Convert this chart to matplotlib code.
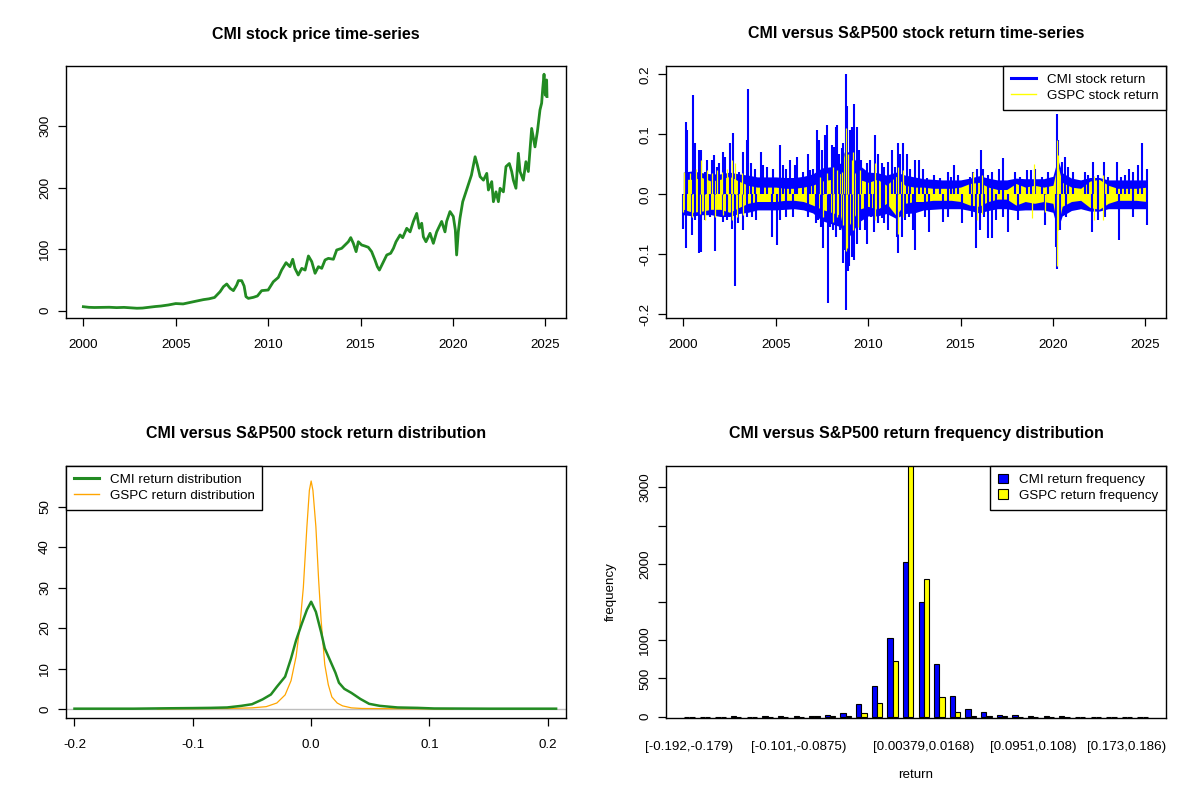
import numpy as np
import matplotlib.pyplot as plt
from matplotlib.patches import Patch
from matplotlib.lines import Line2D

plt.rcParams['font.family'] = ['Liberation Sans', 'DejaVu Sans']
plt.rcParams['font.size'] = 9.6

# ---- CMI closing price ----
price_years = [2000.0, 2000.3, 2000.6, 2001.0, 2001.4, 2001.8, 2002.2, 2002.6, 2002.9, 2003.2,
               2003.5, 2003.9, 2004.2, 2004.6, 2005.0, 2005.4, 2005.7, 2006.1, 2006.5, 2006.8,
               2007.1, 2007.4, 2007.58, 2007.76, 2007.94, 2008.12, 2008.3, 2008.39, 2008.57, 2008.7,
               2008.8, 2008.93, 2009.2, 2009.42, 2009.65, 2010.0, 2010.28, 2010.55, 2010.73, 2010.97,
               2011.18, 2011.33, 2011.45, 2011.63, 2011.82, 2012.0, 2012.18, 2012.36, 2012.54, 2012.72,
               2012.9, 2013.08, 2013.26, 2013.53, 2013.71, 2013.98, 2014.16, 2014.34, 2014.47, 2014.61,
               2014.76, 2014.88, 2015.06, 2015.24, 2015.42, 2015.6, 2015.78, 2015.91, 2016.02, 2016.2,
               2016.42, 2016.63, 2016.78, 2016.92, 2017.14, 2017.28, 2017.5, 2017.68, 2017.86, 2018.04,
               2018.18, 2018.31, 2018.4, 2018.54, 2018.76, 2018.94, 2019.12, 2019.39, 2019.57, 2019.66,
               2019.84, 2020.02, 2020.13, 2020.2, 2020.29, 2020.38, 2020.53, 2020.65, 2020.83, 2021.0,
               2021.2, 2021.32, 2021.47, 2021.65, 2021.83, 2021.92, 2022.1, 2022.19, 2022.33, 2022.46,
               2022.55, 2022.73, 2022.87, 2023.05, 2023.18, 2023.27, 2023.41, 2023.54, 2023.63, 2023.81,
               2023.95, 2024.08, 2024.17, 2024.26, 2024.44, 2024.57, 2024.71, 2024.8, 2024.86, 2024.93,
               2025.0, 2025.07, 2025.09]
price_vals = [6.5, 5.5, 5.2, 5.4, 5.6, 5.0, 5.4, 4.5, 4.0, 4.3,
              5.4, 6.8, 7.6, 9.3, 11.6, 11.0, 13.0, 15.5, 18.0, 19.3,
              21.5, 30.9, 39, 43.4, 36.4, 32.6, 41.8, 48.8, 48.8, 40,
              22.8, 20, 21.7, 23.9, 32.6, 33.6, 47, 54, 66, 78,
              71.5, 83.5, 68.8, 58, 68.8, 66, 88.9, 79.7, 60.7, 71.5,
              68.8, 82.4, 85, 83.5, 98.6, 101.3, 106.7, 112, 118.7, 109.4,
              95.9, 112, 106.7, 105, 103, 95.9, 82.4, 71.5, 66, 77,
              90.5, 93.2, 101.3, 112, 123, 118.6, 133.8, 128, 145, 158,
              134, 142, 120, 112, 125.7, 109.4, 128, 145, 128, 145,
              161, 153, 131, 90.5, 128, 150, 177, 188, 204, 220,
              250, 236.7, 217.7, 212, 223, 196, 209.6, 177, 193, 177,
              198.8, 193, 234, 239, 226, 212, 198.8, 255.6, 226, 212,
              242, 226, 261, 296, 266, 290.8, 326, 337, 361, 384,
              350, 374.7, 347.7]

# ---- daily returns: dense core band (upper / lower) ----
core_years = [2000.0, 2000.5, 2001.0, 2001.5, 2002.0, 2002.5, 2003.0, 2003.5, 2004.0, 2004.5,
              2005.0, 2005.5, 2006.0, 2006.5, 2007.0, 2007.5, 2008.0, 2008.5, 2008.75, 2009.0,
              2009.5, 2010.0, 2010.5, 2011.0, 2011.5, 2012.0, 2012.5, 2013.0, 2013.5, 2014.0,
              2014.5, 2015.0, 2015.5, 2016.0, 2016.5, 2017.0, 2017.5, 2018.0, 2018.5, 2019.0,
              2019.5, 2020.0, 2020.25, 2020.5, 2021.0, 2021.5, 2022.0, 2022.5, 2023.0, 2023.5,
              2024.0, 2024.5, 2025.1]
cmi_hi = [0.037, 0.039, 0.036, 0.034, 0.034, 0.037, 0.034, 0.032, 0.029, 0.029,
          0.029, 0.028, 0.028, 0.03, 0.034, 0.044, 0.046, 0.052, 0.074, 0.069,
          0.049, 0.037, 0.036, 0.032, 0.037, 0.032, 0.029, 0.026, 0.025, 0.024,
          0.024, 0.024, 0.027, 0.031, 0.027, 0.024, 0.024, 0.027, 0.026, 0.026,
          0.026, 0.03, 0.059, 0.036, 0.027, 0.024, 0.028, 0.028, 0.024, 0.024,
          0.024, 0.024, 0.024]
cmi_lo = [-0.034, -0.036, -0.034, -0.034, -0.037, -0.037, -0.032, -0.03, -0.026, -0.026,
          -0.026, -0.025, -0.024, -0.026, -0.031, -0.044, -0.049, -0.054, -0.079, -0.069,
          -0.046, -0.036, -0.036, -0.032, -0.04, -0.032, -0.031, -0.026, -0.025, -0.024,
          -0.024, -0.024, -0.027, -0.031, -0.027, -0.024, -0.024, -0.027, -0.026, -0.026,
          -0.026, -0.03, -0.059, -0.036, -0.027, -0.024, -0.028, -0.028, -0.024, -0.024,
          -0.024, -0.024, -0.024]
gspc_hi = [0.025, 0.025, 0.028, 0.022, 0.025, 0.03, 0.022, 0.015, 0.012, 0.012,
           0.012, 0.01, 0.01, 0.012, 0.015, 0.022, 0.025, 0.035, 0.075, 0.05,
           0.025, 0.02, 0.025, 0.015, 0.03, 0.015, 0.012, 0.012, 0.01, 0.01,
           0.01, 0.012, 0.018, 0.02, 0.012, 0.008, 0.008, 0.018, 0.012, 0.015,
           0.012, 0.015, 0.05, 0.02, 0.012, 0.01, 0.022, 0.025, 0.015, 0.01,
           0.01, 0.01, 0.012]
gspc_lo = [-0.025, -0.03, -0.028, -0.025, -0.025, -0.03, -0.022, -0.015, -0.012, -0.012,
           -0.012, -0.01, -0.01, -0.012, -0.018, -0.025, -0.03, -0.035, -0.075, -0.05,
           -0.025, -0.02, -0.025, -0.015, -0.035, -0.015, -0.012, -0.012, -0.01, -0.01,
           -0.01, -0.012, -0.018, -0.02, -0.012, -0.008, -0.008, -0.018, -0.012, -0.015,
           -0.012, -0.015, -0.055, -0.02, -0.012, -0.01, -0.022, -0.025, -0.015, -0.01,
           -0.01, -0.01, -0.012]

# ---- isolated big daily moves, CMI ----
cmi_up_years = [2000.15, 2000.22, 2000.52, 2000.63, 2000.87, 2000.96, 2001.17, 2001.3, 2001.53, 2001.68,
                2001.8, 2001.95, 2002.13, 2002.25, 2002.53, 2002.7, 2003.03, 2003.21, 2003.43, 2003.52,
                2003.64, 2003.88, 2004.18, 2004.33, 2004.55, 2004.87, 2005.23, 2005.41, 2005.56, 2005.77,
                2006.04, 2006.13, 2006.5, 2006.73, 2006.85, 2007.04, 2007.25, 2007.36, 2007.49, 2007.67,
                2007.76, 2008.03, 2008.15, 2008.26, 2008.33, 2008.44, 2008.57, 2008.66, 2008.8, 2008.87,
                2009.02, 2009.11, 2009.24, 2009.38, 2009.51, 2009.62, 2009.92, 2010.1, 2010.37, 2010.55,
                2010.73, 2010.88, 2011.09, 2011.28, 2011.46, 2011.6, 2011.73, 2011.91, 2012.09, 2012.27,
                2012.54, 2012.75, 2012.99, 2013.17, 2013.58, 2013.89, 2014.31, 2014.49, 2014.67, 2014.88,
                2015.51, 2015.69, 2015.87, 2016.09, 2016.24, 2016.47, 2016.69, 2017.08, 2017.32, 2017.95,
                2018.22, 2018.58, 2018.82, 2019.03, 2019.43, 2019.72, 2020.21, 2020.26, 2020.51, 2020.66,
                2020.84, 2021.11, 2021.74, 2021.92, 2022.15, 2022.46, 2022.78, 2023.0, 2023.45, 2023.69,
                2023.9, 2024.12, 2024.35, 2024.59, 2024.81, 2025.08]
cmi_up_vals = [0.121, 0.107, 0.165, 0.085, 0.074, 0.074, 0.038, 0.057, 0.057, 0.065,
               0.046, 0.052, 0.071, 0.063, 0.085, 0.102, 0.038, 0.071, 0.09, 0.175,
               0.052, 0.043, 0.071, 0.049, 0.046, 0.043, 0.082, 0.049, 0.043, 0.057,
               0.049, 0.063, 0.038, 0.068, 0.04, 0.043, 0.107, 0.09, 0.074, 0.099,
               0.115, 0.082, 0.079, 0.113, 0.115, 0.068, 0.077, 0.085, 0.2, 0.148,
               0.107, 0.113, 0.15, 0.113, 0.074, 0.057, 0.052, 0.057, 0.099, 0.068,
               0.052, 0.046, 0.054, 0.074, 0.046, 0.085, 0.068, 0.085, 0.068, 0.043,
               0.057, 0.057, 0.043, 0.027, 0.032, 0.027, 0.038, 0.029, 0.049, 0.032,
               0.029, 0.038, 0.043, 0.074, 0.043, 0.032, 0.038, 0.043, 0.06, 0.038,
               0.029, 0.04, 0.04, 0.043, 0.029, 0.038, 0.134, 0.09, 0.054, 0.063,
               0.046, 0.038, 0.038, 0.032, 0.054, 0.032, 0.054, 0.029, 0.054, 0.029,
               0.032, 0.043, 0.038, 0.049, 0.085, 0.043]
cmi_dn_years = [2000.0, 2000.14, 2000.45, 2000.63, 2000.87, 2000.94, 2001.17, 2001.44, 2001.71, 2002.16,
                2002.35, 2002.62, 2002.78, 2002.98, 2003.21, 2003.43, 2003.7, 2003.93, 2004.78, 2005.05,
                2005.23, 2005.56, 2005.95, 2006.76, 2007.18, 2007.3, 2007.43, 2007.58, 2007.81, 2007.94,
                2008.12, 2008.26, 2008.48, 2008.62, 2008.69, 2008.8, 2008.89, 2008.97, 2009.11, 2009.25,
                2009.38, 2009.56, 2009.83, 2009.92, 2010.16, 2010.34, 2010.52, 2010.73, 2010.88, 2011.06,
                2011.55, 2011.6, 2011.82, 2012.0, 2012.23, 2012.45, 2012.54, 2013.08, 2013.3, 2014.03,
                2014.31, 2015.06, 2015.6, 2015.82, 2016.06, 2016.29, 2016.47, 2016.69, 2016.9, 2017.32,
                2017.55, 2018.13, 2019.57, 2020.17, 2020.21, 2020.39, 2020.69, 2022.14, 2022.46, 2022.82,
                2023.58, 2024.32, 2025.08]
cmi_dn_vals = [-0.057, -0.089, -0.068, -0.043, -0.098, -0.096, -0.043, -0.037, -0.094, -0.046,
               -0.043, -0.057, -0.152, -0.048, -0.059, -0.037, -0.037, -0.043, -0.071, -0.085,
               -0.043, -0.037, -0.037, -0.037, -0.048, -0.043, -0.054, -0.09, -0.181, -0.054,
               -0.059, -0.071, -0.059, -0.115, -0.093, -0.192, -0.128, -0.12, -0.104, -0.11,
               -0.082, -0.059, -0.059, -0.082, -0.037, -0.062, -0.048, -0.04, -0.048, -0.059,
               -0.071, -0.098, -0.071, -0.043, -0.037, -0.059, -0.093, -0.037, -0.062, -0.046,
               -0.037, -0.048, -0.037, -0.09, -0.059, -0.037, -0.073, -0.073, -0.043, -0.037,
               -0.062, -0.043, -0.051, -0.087, -0.125, -0.059, -0.037, -0.062, -0.043, -0.037,
               -0.076, -0.037, -0.051]

# ---- isolated big daily moves, S&P500 ----
gspc_up_years = [2000.04, 2000.36, 2000.69, 2000.94, 2001.26, 2001.53, 2001.84, 2002.07, 2002.35, 2002.62,
                 2002.8, 2003.16, 2007.4, 2007.76, 2008.08, 2008.3, 2008.57, 2008.8, 2008.93, 2009.11,
                 2009.2, 2009.56, 2010.37, 2011.64, 2011.91, 2015.69, 2016.14, 2019.0, 2020.21, 2020.3,
                 2022.2, 2022.7]
gspc_up_vals = [0.038, 0.035, 0.043, 0.057, 0.04, 0.035, 0.04, 0.038, 0.043, 0.057,
                0.052, 0.035, 0.029, 0.035, 0.046, 0.04, 0.038, 0.11, 0.068, 0.057,
                0.07, 0.04, 0.052, 0.046, 0.04, 0.038, 0.032, 0.05, 0.09, 0.065,
                0.03, 0.032]
gspc_dn_years = [2000.0, 2000.45, 2000.9, 2001.17, 2001.71, 2002.16, 2002.62, 2002.89, 2003.21, 2007.58,
                 2008.12, 2008.3, 2008.62, 2008.8, 2008.85, 2009.2, 2009.47, 2010.37, 2011.6, 2011.91,
                 2015.87, 2016.14, 2018.88, 2019.57, 2020.21, 2020.3, 2022.2, 2022.7]
gspc_dn_vals = [-0.029, -0.037, -0.032, -0.043, -0.037, -0.035, -0.043, -0.037, -0.034, -0.037,
                -0.046, -0.037, -0.051, -0.094, -0.09, -0.06, -0.054, -0.043, -0.066, -0.037,
                -0.043, -0.032, -0.04, -0.029, -0.12, -0.059, -0.043, -0.043]

# ---- kernel density of returns ----
cmi_dens_x = [-0.2, -0.15, -0.12, -0.1, -0.085, -0.071, -0.059, -0.05, -0.041, -0.034,
              -0.029, -0.022, -0.017, -0.0127, -0.008, -0.0036, 0.0, 0.004, 0.0084, 0.0115,
              0.016, 0.0205, 0.0235, 0.028, 0.034, 0.0416, 0.049, 0.058, 0.073, 0.09,
              0.104, 0.15, 0.207]
cmi_dens_y = [0.1, 0.1, 0.2, 0.25, 0.3, 0.4, 0.8, 1.2, 2.4, 3.6,
              5.5, 8.0, 12.5, 17, 21, 24.5, 26.5, 24, 19, 15,
              12, 9, 6.5, 5, 4, 2.5, 1.3, 0.8, 0.4, 0.3,
              0.15, 0.1, 0.1]
gspc_dens_x = [-0.13, -0.1, -0.07, -0.05, -0.038, -0.029, -0.022, -0.017, -0.0127, -0.0097,
               -0.0066, -0.0036, -0.0015, 0.0, 0.0015, 0.004, 0.0063, 0.0084, 0.0115, 0.0145,
               0.0175, 0.022, 0.0265, 0.034, 0.043, 0.067, 0.12]
gspc_dens_y = [0.05, 0.1, 0.15, 0.3, 0.6, 1.5, 3.5, 7, 13, 20,
               30, 45, 54, 56.3, 54, 45, 32, 22, 11, 6,
               3, 1.5, 0.8, 0.3, 0.15, 0.1, 0.05]

# ---- return frequency table (30 bins) ----
bin_breaks = ['-0.192', '-0.179', '-0.166', '-0.153', '-0.14', '-0.127', '-0.114', '-0.101',
              '-0.0875', '-0.0744', '-0.0614', '-0.0484', '-0.0353', '-0.0223', '-0.00925',
              '0.00379', '0.0168', '0.0299', '0.0429', '0.056', '0.069', '0.082', '0.0951',
              '0.108', '0.121', '0.134', '0.147', '0.16', '0.173', '0.186', '0.199']
cmi_freq = [2, 0, 1, 3, 1, 4, 5, 12, 10, 22, 48, 160, 397, 1026, 2022,
            1498, 686, 266, 100, 57, 28, 25, 12, 9, 6, 2, 1, 1, 0, 1]
gspc_freq = [0, 0, 0, 0, 0, 0, 0, 1, 3, 5, 12, 44, 175, 725, 3300,
             1799, 253, 57, 14, 8, 4, 2, 1, 0, 0, 0, 0, 0, 0, 0]
shown_bins = [0, 7, 15, 22, 28]

BLUE = '#0000FF'
YELLOW = '#FFFF00'
GREEN = '#228B22'
ORANGE = '#FFA500'

fig = plt.figure(figsize=(12, 8), dpi=100)


def panel(col, row):
    left = (65.6 + 600 * col) / 1200
    bottom = (800 - 318.4 - 400 * row) / 800
    return fig.add_axes([left, bottom, 500.8 / 1200, 252.8 / 800])


def r_style(ax, title):
    for s in ax.spines.values():
        s.set_linewidth(1.0)
        s.set_color('black')
    ax.tick_params(direction='out', length=6, width=0.9, labelsize=9.6)
    ax.tick_params(axis='x', pad=9)
    ax.tick_params(axis='y', pad=4.5)
    for lab in ax.get_yticklabels():
        lab.set_rotation(90)
        lab.set_verticalalignment('center')
    ax.text(0.5, 1.125, title, transform=ax.transAxes, ha='center', va='center',
            fontsize=11.5, fontweight='bold')


def r_legend(ax, handles, labels, loc, hl):
    leg = ax.legend(handles, labels, loc=loc, borderaxespad=0, fancybox=False,
                    framealpha=1, edgecolor='black', fontsize=9.6, handlelength=hl,
                    handletextpad=0.8, labelspacing=0.25, borderpad=0.6)
    leg.get_frame().set_linewidth(1.0)
    return leg


# top-left: price
ax1 = panel(0, 0)
ax1.plot(price_years, price_vals, color=GREEN, lw=2.0)
ax1.set_xlim(1999.04, 2026.14)
ax1.set_ylim(-12.5, 398)
ax1.set_xticks([2000, 2005, 2010, 2015, 2020, 2025])
ax1.set_yticks([0, 100, 200, 300])
r_style(ax1, 'CMI stock price time-series')

# top-right: returns
ax2 = panel(1, 0)
ax2.fill_between(core_years, cmi_lo, cmi_hi, color=BLUE, lw=0)
ax2.vlines(cmi_up_years, 0, cmi_up_vals, color=BLUE, lw=1.5)
ax2.vlines(cmi_dn_years, 0, cmi_dn_vals, color=BLUE, lw=1.5)
ax2.fill_between(core_years, gspc_lo, gspc_hi, color=YELLOW, lw=0)
ax2.vlines(gspc_up_years, 0, gspc_up_vals, color=YELLOW, lw=0.9)
ax2.vlines(gspc_dn_years, 0, gspc_dn_vals, color=YELLOW, lw=0.9)
ax2.set_xlim(1999.04, 2026.14)
ax2.set_ylim(-0.2068, 0.2145)
ax2.set_xticks([2000, 2005, 2010, 2015, 2020, 2025])
ax2.set_yticks([-0.2, -0.1, 0.0, 0.1, 0.2])
ax2.set_yticklabels(['-0.2', '-0.1', '0.0', '0.1', '0.2'])
r_style(ax2, 'CMI versus S&P500 stock return time-series')
r_legend(ax2, [Line2D([], [], color=BLUE, lw=2.2), Line2D([], [], color=YELLOW, lw=1)],
         ['CMI stock return', 'GSPC stock return'], 'upper right', 1.9)

# bottom-left: density
ax3 = panel(0, 1)
ax3.axhline(0, color='#BEBEBE', lw=1)
ax3.plot(gspc_dens_x, gspc_dens_y, color=ORANGE, lw=0.9)
ax3.plot(cmi_dens_x, cmi_dens_y, color=GREEN, lw=1.8)
ax3.set_xlim(-0.2075, 0.2157)
ax3.set_ylim(-2.3, 60.1)
ax3.set_xticks([-0.2, -0.1, 0.0, 0.1, 0.2])
ax3.set_xticklabels(['-0.2', '-0.1', '0.0', '0.1', '0.2'])
ax3.set_yticks([0, 10, 20, 30, 40, 50])
r_style(ax3, 'CMI versus S&P500 stock return distribution')
r_legend(ax3, [Line2D([], [], color=GREEN, lw=2.2), Line2D([], [], color=ORANGE, lw=1)],
         ['CMI return distribution', 'GSPC return distribution'], 'upper left', 1.9)

# bottom-right: frequency bars
ax4 = panel(1, 1)
centers = np.arange(len(cmi_freq)) * 3 + 2
ax4.bar(centers - 0.5, cmi_freq, width=1, color=BLUE, edgecolor='black', lw=0.8)
ax4.bar(centers + 0.5, gspc_freq, width=1, color=YELLOW, edgecolor='black', lw=0.8)
ax4.set_xlim(-2.56, 93.56)
ax4.set_ylim(-22, 3285)
bin_labels = ['[%s,%s)' % (bin_breaks[i], bin_breaks[i + 1]) for i in range(len(cmi_freq))]
ax4.set_xticks([centers[i] for i in shown_bins])
ax4.set_xticklabels([bin_labels[i] for i in shown_bins])
ax4.set_yticks([0, 500, 1000, 1500, 2000, 2500, 3000])
ax4.set_yticklabels(['0', '500', '1000', '', '2000', '', '3000'])
r_style(ax4, 'CMI versus S&P500 return frequency distribution')
ax4.tick_params(axis='x', length=0, pad=16)
ax4.text(0.5, -56.6 / 252.8, 'return', transform=ax4.transAxes, ha='center', va='center')
ax4.text(-54.6 / 500.8, 0.5, 'frequency', transform=ax4.transAxes, ha='center', va='center',
         rotation=90)
r_legend(ax4, [Patch(facecolor=BLUE, edgecolor='black', lw=0.8),
               Patch(facecolor=YELLOW, edgecolor='black', lw=0.8)],
         ['CMI return frequency', 'GSPC return frequency'], 'upper right', 0.8)

fig.savefig('out.png', dpi=100)
